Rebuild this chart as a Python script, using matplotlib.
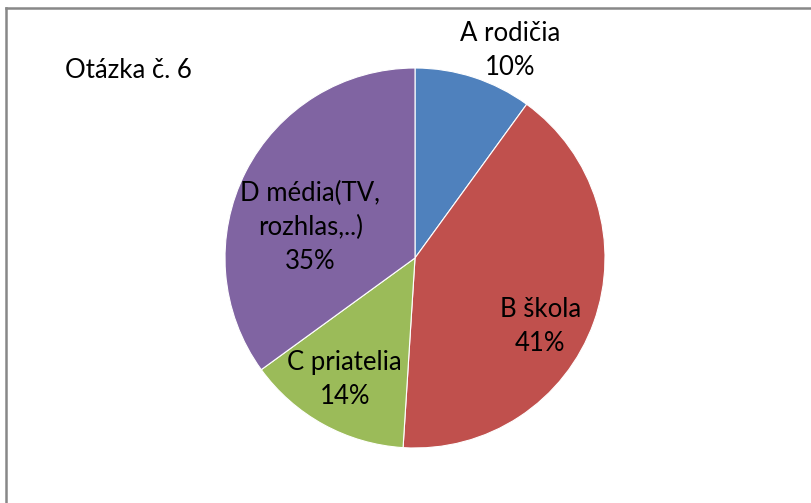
import matplotlib.pyplot as plt

labels = ['A rodičia', 'B škola', 'C priatelia', 'D média(TV,\nrozhlas,..)']
values = [10, 41, 14, 35]
colors = ['#4F81BD', '#C0504D', '#9BBB59', '#8064A2']
# label spots in pie units (center 0,0, radius 1)
label_pos = [(0.50, 1.09), (0.66, -0.36), (-0.37, -0.64), (-0.55, 0.16)]

plt.rcParams['font.family'] = ['Lato', 'DejaVu Sans']

fig = plt.figure(figsize=(8.12, 5.03), dpi=100)
W, H = 812, 503
cx, cy, r = 415, 258, 190

# gray frame (only top and left visible in the crop)
fig.add_artist(plt.Line2D([5.5 / W, 5.5 / W], [0, 1 - 8 / H], color='#888888', lw=1.8))
fig.add_artist(plt.Line2D([5.5 / W, 1], [1 - 8 / H, 1 - 8 / H], color='#888888', lw=1.8))

ax = fig.add_axes([(cx - r) / W, (H - cy - r) / H, 2 * r / W, 2 * r / H])
ax.pie(values, colors=colors, startangle=90, counterclock=False, radius=1,
       wedgeprops=dict(edgecolor='white', linewidth=0.8))
ax.set_xlim(-1, 1)
ax.set_ylim(-1, 1)
ax.set_aspect('equal')
ax.axis('off')

for lab, v, (x, y) in zip(labels, values, label_pos):
    ax.text(x, y, f'{lab}\n{v}%', ha='center', va='center', fontsize=18.5,
            linespacing=1.45, color='black', clip_on=False)

fig.text(65 / W, 1 - 70 / H, 'Otázka č. 6', ha='left', va='center', fontsize=18.5)

fig.savefig('out.png', dpi=100)
